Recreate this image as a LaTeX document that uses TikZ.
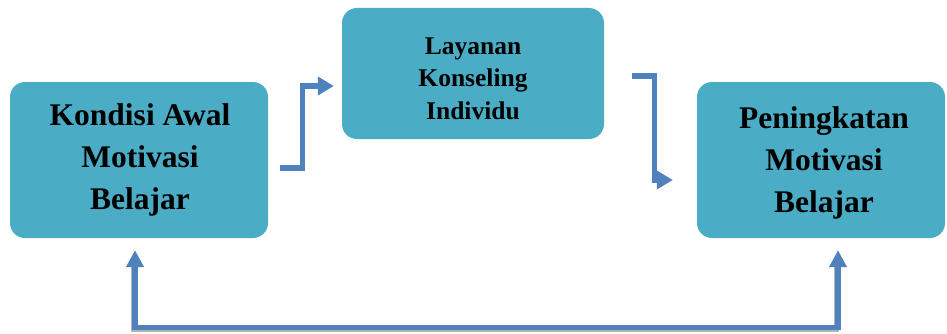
\documentclass[tikz,border=0pt]{standalone}
\usepackage{fontspec}
\setmainfont{Liberation Serif}
\usetikzlibrary{arrows.meta}
\definecolor{boxfill}{HTML}{4BACC6}
\definecolor{arrblue}{HTML}{4F81BD}
\tikzset{
  bigbox/.style={draw=none, fill=boxfill, rounded corners=15pt, inner sep=0pt},
  bigtext/.style={align=center, inner sep=0pt, font=\fontsize{31.5}{42}\selectfont\bfseries},
  smalltext/.style={align=center, inner sep=0pt, font=\fontsize{25.5}{32.5}\selectfont\bfseries},
  arr/.style={draw=arrblue, line width=5.2pt, -{Triangle[length=16pt,width=18pt]}},
  arrboth/.style={draw=arrblue, line width=5.2pt, {Triangle[length=17pt,width=17pt]}-{Triangle[length=17pt,width=17pt]}},
  shadowline/.style={draw=black!30, line width=5pt}
}
\begin{document}
\begin{tikzpicture}[x=1pt,y=1pt]
\useasboundingbox (0,0) rectangle (947,333);
\node[bigbox, minimum width=258pt, minimum height=156pt] (b1) at (139,173) {};
\node[bigbox, minimum width=262pt, minimum height=131pt] (b2) at (473,259.5) {};
\node[bigbox, minimum width=248pt, minimum height=156pt] (b3) at (821,173) {};
\node[bigtext] (t1) at ([xshift=1pt]b1.center) {Kondisi Awal\\Motivasi\\Belajar};
\node[smalltext] (t2) at ([yshift=-5pt]b2.center) {Layanan\\Konseling\\Individu};
\node[bigtext] (t3) at ([xshift=3pt,yshift=-3pt]b3.center) {Peningkatan\\Motivasi\\Belajar};
% connectors
\draw[arr] ([xshift=12pt,yshift=-8pt]b1.east) -- ++(22pt,0) |- ([xshift=-8pt,yshift=-12.5pt]b2.west);
\draw[arr] ([xshift=28pt,yshift=-2.5pt]b2.east) -- ++(22pt,0) |- ([xshift=-24pt,yshift=-20pt]b3.west);
% bottom feedback with shadow
\draw[shadowline] ([xshift=-6pt,yshift=-26pt]b1.south) |- ([xshift=15pt,yshift=-91pt]b3.south) -- ([xshift=15pt,yshift=-26pt]b3.south);
\draw[arrboth] ([xshift=-4pt,yshift=-12pt]b1.south) -- ++(0,-77pt) -| ([xshift=17pt,yshift=-12pt]b3.south);
\end{tikzpicture}
\end{document}
